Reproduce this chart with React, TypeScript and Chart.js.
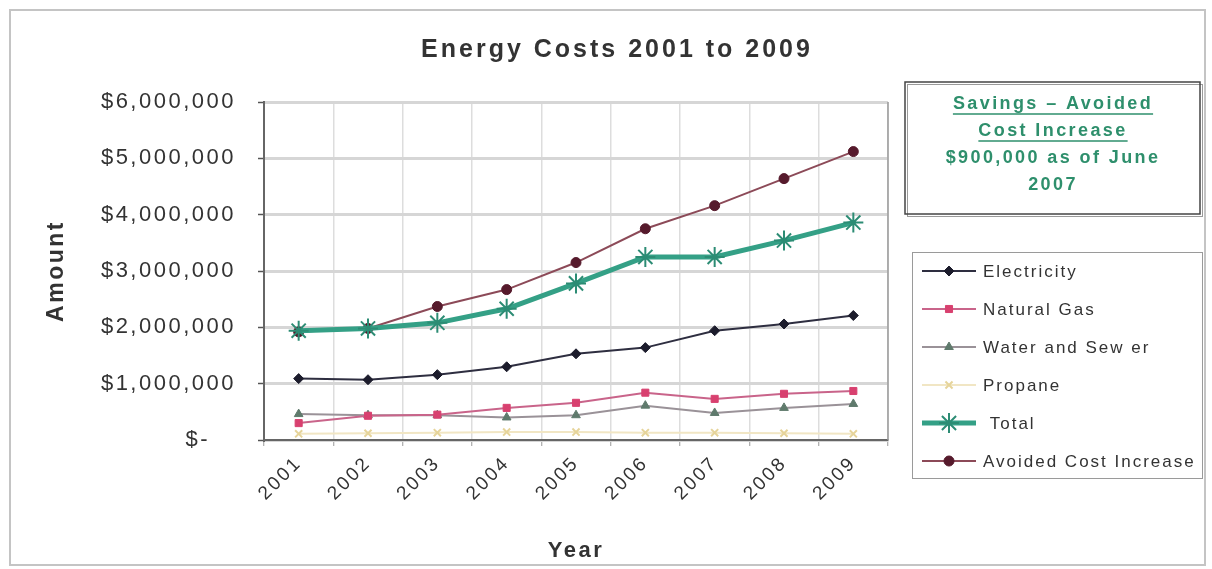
import React, { useEffect, useRef } from 'react';
import { Chart, registerables } from 'chart.js';
import { drawPoint } from 'chart.js/helpers';

Chart.register(...registerables);

const years = ['2001', '2002', '2003', '2004', '2005', '2006', '2007', '2008', '2009'];
const electricity = [1090000, 1070000, 1160000, 1300000, 1530000, 1640000, 1940000, 2060000, 2210000];
const naturalGas = [300000, 430000, 450000, 570000, 660000, 840000, 730000, 820000, 870000];
const waterSewer = [460000, 440000, 440000, 400000, 440000, 610000, 480000, 570000, 640000];
const propane = [110000, 120000, 130000, 140000, 140000, 130000, 130000, 120000, 110000];
const total = [1940000, 1980000, 2080000, 2330000, 2780000, 3250000, 3250000, 3540000, 3860000];
const avoided = [1920000, 1980000, 2370000, 2670000, 3150000, 3750000, 4160000, 4640000, 5120000];

const yTicks = [0, 1000000, 2000000, 3000000, 4000000, 5000000, 6000000];

const titleText = 'Energy Costs 2001 to 2009';
const noteLines = ['Savings \u2013 Avoided', 'Cost Increase', '$900,000 as of June', '2007'];

const FONT = '"Liberation Sans", Arial, sans-serif';

const decorPlugin = {
  id: 'decor',
  beforeDraw(chart: any) {
    const ctx = chart.ctx;
    ctx.save();
    ctx.fillStyle = '#ffffff';
    ctx.fillRect(0, 0, chart.width, chart.height);
    ctx.strokeStyle = '#c4c4c4';
    ctx.lineWidth = 2;
    ctx.strokeRect(10, 10, 1195, 555);
    ctx.restore();
    ctx.letterSpacing = '2.5px';
  },
  afterDatasetsDraw(chart: any) {
    const ctx = chart.ctx;
    const a = chart.chartArea;
    ctx.save();
    ctx.strokeStyle = '#9a9a9a';
    ctx.lineWidth = 1.5;
    ctx.beginPath();
    ctx.moveTo(a.right, a.top);
    ctx.lineTo(a.right, a.bottom);
    ctx.stroke();
    ctx.restore();
  },
  afterDraw(chart: any) {
    const ctx = chart.ctx;
    ctx.save();
    // title
    ctx.letterSpacing = '3px';
    ctx.font = `bold 25px ${FONT}`;
    ctx.fillStyle = '#333333';
    ctx.textAlign = 'center';
    ctx.textBaseline = 'middle';
    ctx.fillText(titleText, 617, 50);

    // note box
    ctx.strokeStyle = '#9a9a9a';
    ctx.lineWidth = 1;
    ctx.strokeRect(907.5, 84.5, 295, 132);
    ctx.strokeStyle = '#444444';
    ctx.lineWidth = 1.5;
    ctx.strokeRect(905, 82, 295, 132);
    ctx.font = `bold 18px ${FONT}`;
    ctx.letterSpacing = '2.4px';
    ctx.fillStyle = '#2e8f6c';
    ctx.strokeStyle = '#2e8f6c';
    const noteY = [104, 131, 158, 185];
    noteLines.forEach((t, i) => {
      ctx.fillText(t, 1053, noteY[i]);
      if (i < 2) {
        const w = ctx.measureText(t).width;
        ctx.lineWidth = 1.5;
        ctx.beginPath();
        ctx.moveTo(1053 - w / 2, noteY[i] + 10);
        ctx.lineTo(1053 + w / 2, noteY[i] + 10);
        ctx.stroke();
      }
    });

    // legend box
    ctx.strokeStyle = '#9a9a9a';
    ctx.lineWidth = 1;
    ctx.strokeRect(912.5, 252.5, 290, 226);
    const rowY = [271, 309, 347, 385, 423, 461];
    ctx.font = `17px ${FONT}`;
    ctx.letterSpacing = '2px';
    ctx.textAlign = 'left';
    chart.data.datasets.forEach((ds: any, i: number) => {
      const y = rowY[i];
      ctx.strokeStyle = ds.borderColor;
      ctx.lineWidth = ds.borderWidth;
      ctx.beginPath();
      ctx.moveTo(922, y);
      ctx.lineTo(976, y);
      ctx.stroke();
      ctx.fillStyle = ds.pointBackgroundColor;
      ctx.strokeStyle = ds.pointBorderColor;
      ctx.lineWidth = ds.pointBorderWidth;
      drawPoint(ctx, { pointStyle: ds.pointStyle, radius: ds.pointRadius, rotation: 0, borderWidth: ds.pointBorderWidth }, 949, y);
      ctx.fillStyle = '#333333';
      ctx.fillText(ds.label, 983, y + 1);
    });
    ctx.restore();
  },
};

export default function App() {
  const ref = useRef<HTMLCanvasElement | null>(null);
  useEffect(() => {
    if (!ref.current) return;
    const chart = new Chart(ref.current, {
      type: 'line',
      data: {
        labels: years,
        datasets: [
          {
            label: 'Electricity',
            data: electricity,
            borderColor: '#2e2e40',
            borderWidth: 2,
            pointStyle: 'rectRot',
            pointRadius: 5,
            pointBackgroundColor: '#1c1c2c',
            pointBorderColor: '#1c1c2c',
            pointBorderWidth: 1,
          },
          {
            label: 'Natural Gas',
            data: naturalGas,
            borderColor: '#c9648a',
            borderWidth: 2,
            pointStyle: 'rect',
            pointRadius: 5,
            pointBackgroundColor: '#d8406f',
            pointBorderColor: '#d8406f',
            pointBorderWidth: 1,
          },
          {
            label: 'Water and Sew er',
            data: waterSewer,
            borderColor: '#9a9298',
            borderWidth: 2,
            pointStyle: 'triangle',
            pointRadius: 5,
            pointBackgroundColor: '#5f7a6c',
            pointBorderColor: '#5f7a6c',
            pointBorderWidth: 1,
          },
          {
            label: 'Propane',
            data: propane,
            borderColor: '#f1e6c4',
            borderWidth: 2,
            pointStyle: 'crossRot',
            pointRadius: 5,
            pointBackgroundColor: '#e6d49a',
            pointBorderColor: '#e6d49a',
            pointBorderWidth: 2,
          },
          {
            label: ' Total',
            data: total,
            borderColor: '#34a086',
            borderWidth: 5,
            pointStyle: 'star',
            pointRadius: 10,
            pointBackgroundColor: '#2c8c74',
            pointBorderColor: '#2c8c74',
            pointBorderWidth: 2,
          },
          {
            label: 'Avoided Cost Increase',
            data: avoided,
            borderColor: '#8c4a58',
            borderWidth: 2,
            pointStyle: 'circle',
            pointRadius: 5,
            pointBackgroundColor: '#561a2c',
            pointBorderColor: '#561a2c',
            pointBorderWidth: 1,
          },
        ],
      },
      options: {
        animation: false,
        responsive: true,
        maintainAspectRatio: false,
        layout: { padding: { top: 102, right: 324, bottom: 1, left: 39 } },
        plugins: {
          legend: { display: false },
          title: { display: false },
          tooltip: { enabled: false },
        },
        scales: {
          x: {
            type: 'category',
            offset: true,
            afterFit: (scale: any) => {
              scale.height = 128;
            },
            grid: {
              offset: true,
              color: '#dddddd',
              lineWidth: 1.5,
              tickLength: 6,
              tickColor: '#999999',
              tickWidth: 1,
            },
            border: { color: '#666666', width: 2 },
            ticks: {
              minRotation: 45,
              maxRotation: 45,
              color: '#333333',
              padding: 6,
              font: { family: FONT, size: 19 },
            },
            title: {
              display: true,
              text: 'Year',
              color: '#333333',
              font: { family: FONT, size: 22, weight: 'bold' },
            },
          },
          y: {
            min: 0,
            max: 6000000,
            afterFit: (scale: any) => {
              scale.width = 225;
            },
            afterBuildTicks: (scale: any) => {
              scale.ticks = yTicks.map((v) => ({ value: v }));
            },
            grid: {
              color: '#d6d6d6',
              lineWidth: 3,
              tickLength: 6,
              tickColor: '#555555',
              tickWidth: 1.5,
            },
            border: { color: '#666666', width: 2 },
            ticks: {
              color: '#333333',
              padding: 22,
              font: { family: FONT, size: 22 },
              callback: (v: any) => (Number(v) === 0 ? '$-   ' : '$' + Number(v).toLocaleString('en-US')),
            },
            title: {
              display: true,
              text: 'Amount',
              color: '#333333',
              font: { family: FONT, size: 23, weight: 'bold' },
            },
          },
        },
      },
      plugins: [decorPlugin],
    } as any);
    return () => chart.destroy();
  }, []);
  return (
    <div style={{ position: 'absolute', left: 0, top: 0, width: 1212, height: 569, background: '#ffffff' }}>
      <canvas ref={ref} />
    </div>
  );
}
